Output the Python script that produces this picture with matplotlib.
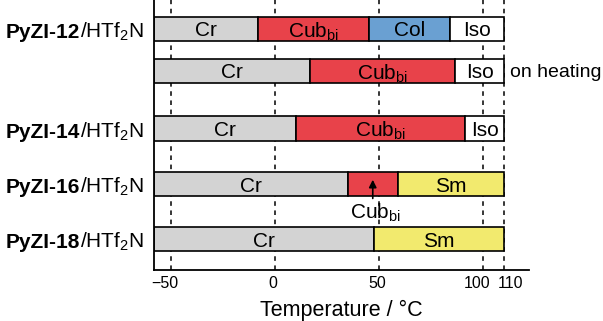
import matplotlib
matplotlib.use("Agg")
import matplotlib.pyplot as plt
import matplotlib.transforms as mtransforms
from matplotlib.offsetbox import TextArea, HPacker, AnnotationBbox

plt.rcParams['font.family'] = ['Liberation Sans', 'DejaVu Sans']
plt.rcParams['mathtext.default'] = 'regular'

# phase data: transition temperatures (deg C) and phase sequence per row
compounds = ["PyZI-12", "", "PyZI-14", "PyZI-16", "PyZI-18"]
row_pos = [0, 0.76, 1.81, 2.82, 3.82]
bounds = [
    [-58, -8, 45, 84, 110],
    [-58, 17, 86.5, 110],
    [-58, 10, 91.5, 110],
    [-58, 35, 59, 110],
    [-58, 47.5, 110],
]
phases = [
    ["Cr", "Cub", "Col", "Iso"],
    ["Cr", "Cub", "Iso"],
    ["Cr", "Cub", "Iso"],
    ["Cr", "Cub", "Sm"],
    ["Cr", "Sm"],
]
phase_text = {"Cr": "Cr", "Cub": "Cub$_{bi}$", "Col": "Col", "Iso": "Iso", "Sm": "Sm"}
phase_color = {"Cr": "#d3d3d3", "Cub": "#e8424a", "Col": "#6aa0d2",
               "Iso": "white", "Sm": "#f2ea6e"}
guide_x = [-50, 0, 50, 100, 110]

fig = plt.figure(figsize=(6.03, 3.21), dpi=100)
ax = fig.add_axes([0.2554, 0.159, 0.6219, 0.841])

for x in guide_x:
    ax.axvline(x, color='k', lw=1.1, ls=(0, (3, 3)), zorder=0)

for i, (b, ph) in enumerate(zip(bounds, phases)):
    y = row_pos[i]
    for j, p in enumerate(ph):
        ax.barh(y, b[j + 1] - b[j], left=b[j], height=0.44,
                color=phase_color[p], edgecolor='k', linewidth=1.2, zorder=2)
        if i == 3 and p == "Cub":
            continue
        ax.text((b[j] + b[j + 1]) / 2, y, phase_text[p], ha='center',
                va='center_baseline', fontsize=15, zorder=3)
    if compounds[i]:
        box = HPacker(children=[
            TextArea(compounds[i], textprops=dict(fontsize=15, fontweight='bold')),
            TextArea("/HTf$_2$N", textprops=dict(fontsize=15))],
            align='baseline', pad=0, sep=0)
        ab = AnnotationBbox(box, (-0.027, y), xycoords=('axes fraction', 'data'),
                            box_alignment=(1, 0.64), frameon=False, pad=0,
                            annotation_clip=False)
        ax.add_artist(ab)

ax.text(113, row_pos[1], "on heating", ha='left', va='center_baseline', fontsize=14)

# Cub_bi marker for PyZI-16
ax.annotate('', xy=(47, 2.74), xytext=(47, 3.08),
            arrowprops=dict(arrowstyle='-|>', color='k', lw=1.2,
                            mutation_scale=11, shrinkA=0, shrinkB=0), zorder=4)
ax.text(48.5, 3.34, "Cub$_{bi}$", ha='center', va='center', fontsize=15)

ax.set_xlim(-58, 122)
ax.set_ylim(4.38, -0.527)
ax.set_yticks([])
ax.set_xticks(guide_x)
ax.tick_params(axis='x', length=0, pad=4, labelsize=11.5)
# nudge crowded labels apart (pixels)
shifts = {"-50": -6, "0": -2, "50": -2, "100": -6, "110": 6}
for lab, v in zip(ax.get_xticklabels(), guide_x):
    dx = shifts.get(str(v), 0)
    if dx:
        lab.set_transform(lab.get_transform() +
                          mtransforms.ScaledTranslation(dx / 100, 0, fig.dpi_scale_trans))
ax.spines['top'].set_visible(False)
ax.spines['right'].set_visible(False)
ax.spines['left'].set_linewidth(1.3)
ax.spines['bottom'].set_linewidth(1.3)
ax.set_xlabel("Temperature / °C", fontsize=15.5, labelpad=7)

fig.savefig("out.png", dpi=100)
